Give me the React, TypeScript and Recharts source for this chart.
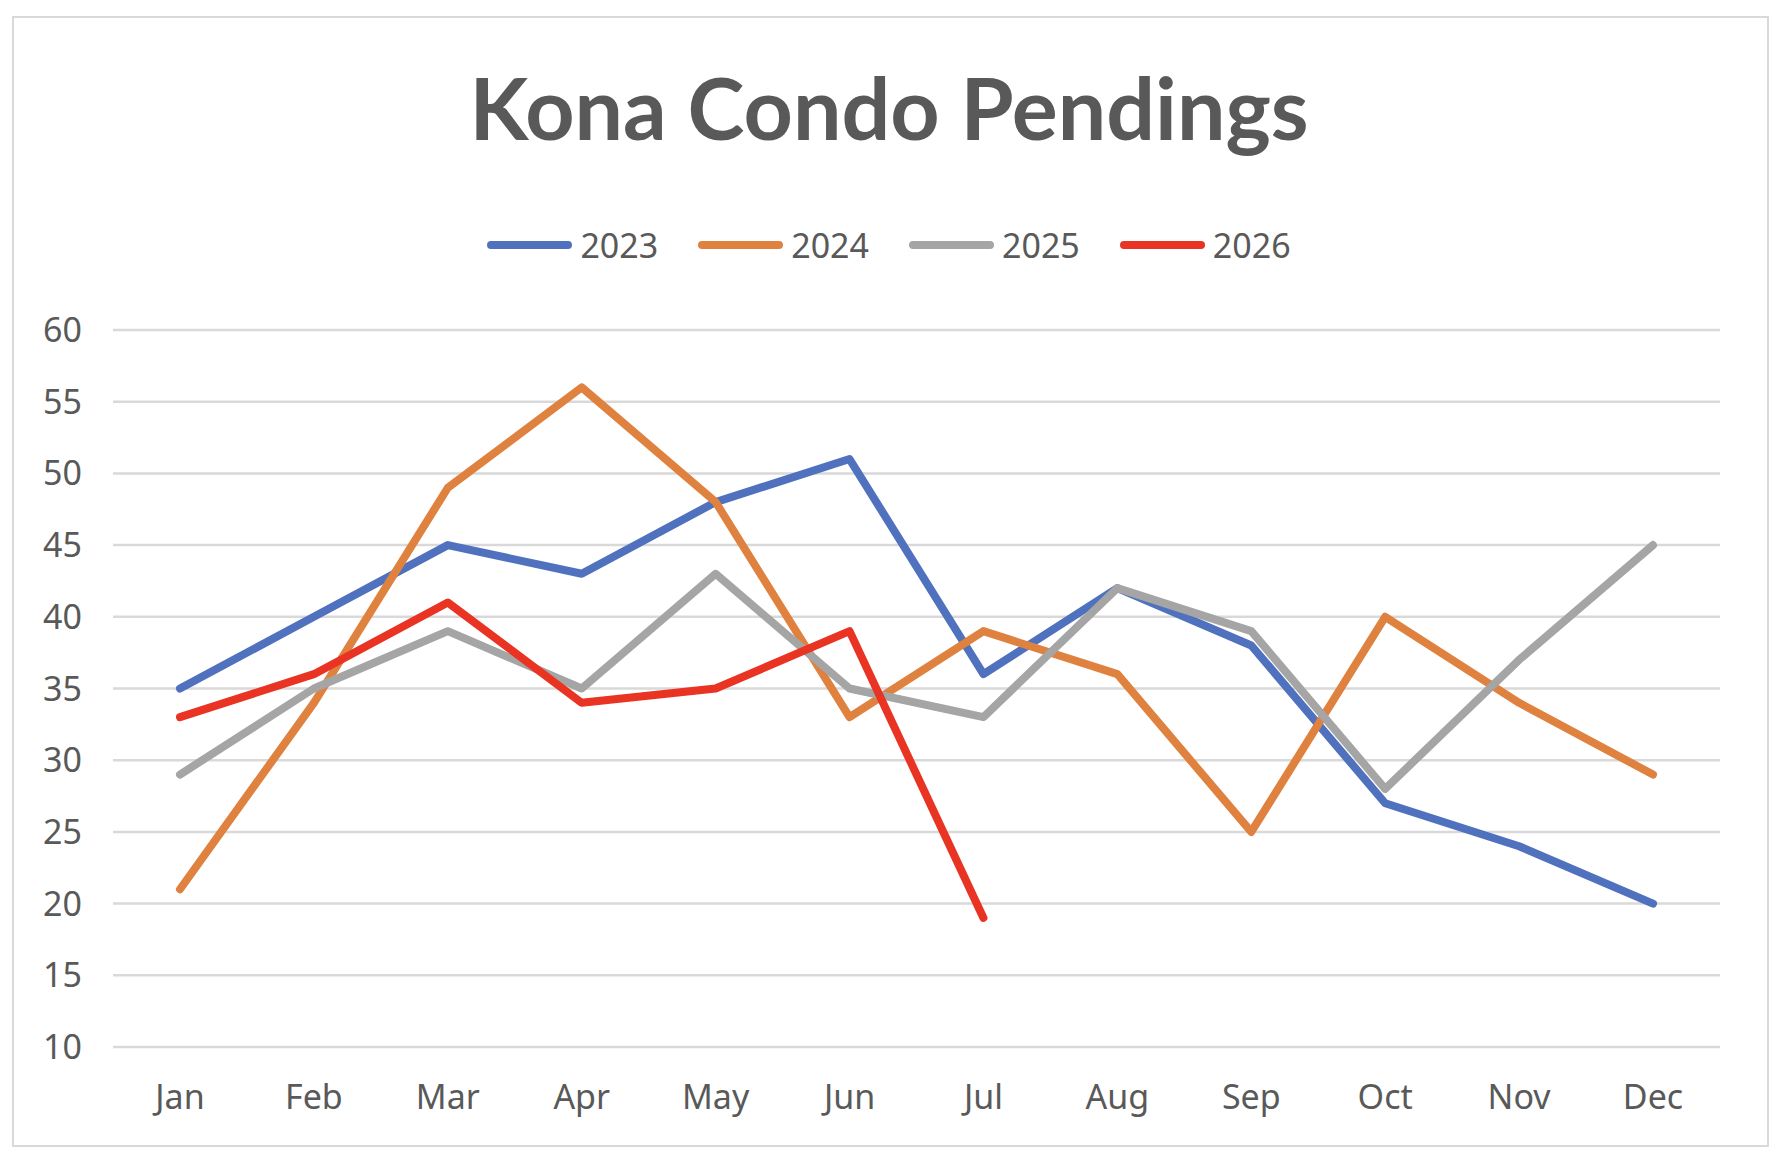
import React from 'react';
import { LineChart, Line, XAxis, YAxis, CartesianGrid, Legend } from 'recharts';

const months = ['Jan', 'Feb', 'Mar', 'Apr', 'May', 'Jun', 'Jul', 'Aug', 'Sep', 'Oct', 'Nov', 'Dec'];
const pend2023 = [35, 40, 45, 43, 48, 51, 36, 42, 38, 27, 24, 20];
const pend2024 = [21, 34, 49, 56, 48, 33, 39, 36, 25, 40, 34, 29];
const pend2025 = [29, 35, 39, 35, 43, 35, 33, 42, 39, 28, 37, 45];
const pend2026 = [33, 36, 41, 34, 35, 39, 19];
const yTicks = [10, 15, 20, 25, 30, 35, 40, 45, 50, 55, 60];

const series = [
  { key: 'y2023', name: '2023', color: '#4F71BE' },
  { key: 'y2024', name: '2024', color: '#E0823F' },
  { key: 'y2025', name: '2025', color: '#A5A5A5' },
  { key: 'y2026', name: '2026', color: '#E93323' },
];

const data = months.map((m, i) => ({
  month: m,
  y2023: pend2023[i],
  y2024: pend2024[i],
  y2025: pend2025[i],
  y2026: i < pend2026.length ? pend2026[i] : null,
}));

const textColor = '#595959';
const font = '"Noto Sans", sans-serif';
const labelSize = 34;

const renderLegend = () => (
  <div style={{ display: 'flex', justifyContent: 'center', alignItems: 'center', fontFamily: font, fontSize: labelSize, color: textColor }}>
    {series.map((s) => (
      <div key={s.key} style={{ display: 'flex', alignItems: 'center', marginRight: 40 }}>
        <svg width={85} height={12} style={{ display: 'block' }}>
          <line x1={4} y1={6} x2={81} y2={6} stroke={s.color} strokeWidth={8} strokeLinecap="round" />
        </svg>
        <span style={{ marginLeft: 8, lineHeight: '40px' }}>{s.name}</span>
      </div>
    ))}
  </div>
);

export default function App() {
  return (
    <div style={{ position: 'absolute', left: 0, top: 0, width: 1778, height: 1160, background: '#fff' }}>
      <div
        style={{
          position: 'absolute', left: 12, top: 16, width: 1753, height: 1127,
          border: '2px solid #d9d9d9',
        }}
      />
      <div
        style={{
          position: 'absolute', left: 0, top: 52, width: 1778, textAlign: 'center',
          fontFamily: 'Lato, sans-serif', fontWeight: 700, fontSize: 86, color: textColor, lineHeight: '110px',
        }}
      >
        Kona Condo Pendings
      </div>
      <div style={{ position: 'absolute', left: 0, top: 0 }}>
        <LineChart width={1778} height={1160} data={data} margin={{ top: 330, right: 58, left: 33, bottom: 83 }}>
          <CartesianGrid vertical={false} stroke="#d9d9d9" strokeWidth={2.5} />
          <XAxis
            dataKey="month"
            axisLine={false}
            tickLine={false}
            tickSize={0}
            tickMargin={38}
            height={30}
            padding={{ left: 67, right: 67 }}
            tick={{ fill: textColor, fontSize: labelSize, fontFamily: font }}
          />
          <YAxis
            domain={[10, 60]}
            ticks={yTicks}
            axisLine={false}
            tickLine={false}
            tickSize={0}
            tickMargin={31}
            width={80}
            tick={{ fill: textColor, fontSize: labelSize, fontFamily: font }}
          />
          <Legend
            layout="horizontal"
            verticalAlign="middle"
            align="center"
            content={renderLegend}
            wrapperStyle={{ top: 225, left: 20, width: 1778 }}
          />
          {series.map((s) => (
            <Line
              key={s.key}
              type="linear"
              dataKey={s.key}
              name={s.name}
              stroke={s.color}
              strokeWidth={8}
              strokeLinecap="round"
              strokeLinejoin="round"
              dot={false}
              activeDot={false}
              connectNulls={false}
              isAnimationActive={false}
            />
          ))}
        </LineChart>
      </div>
    </div>
  );
}
